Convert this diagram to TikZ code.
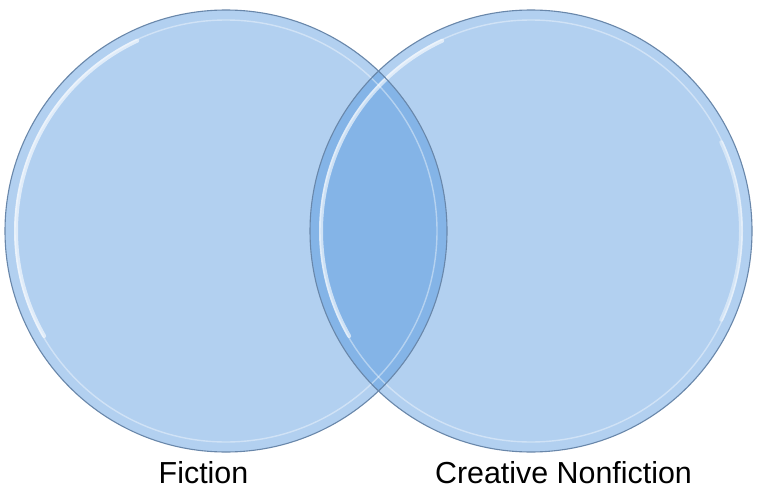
\documentclass[tikz,border=0pt]{standalone}
\usepackage{fontspec}
\setmainfont{Liberation Sans}
\definecolor{circfill}{RGB}{63,138,218}
\definecolor{rimdark}{RGB}{105,135,170}
\tikzset{
  venn/.style={fill=circfill, fill opacity=0.4, draw=none},
  rimline/.style={draw=rimdark, line width=1.1pt},
  innerrim/.style={draw=white, draw opacity=0.4, line width=1.4pt},
  shine/.style={draw=white, draw opacity=0.6, line width=4pt, line cap=round},
  lbl/.style={font=\fontsize{30.4}{36}\selectfont, text=black, anchor=base, inner sep=0pt}
}
\begin{document}
\begin{tikzpicture}[x=1pt,y=-1pt]
\useasboundingbox (0,0) rectangle (759,492);
\fill[white] (0,0) rectangle (759,492);
% circles
\coordinate (cl) at (226,231);
\coordinate (cr) at (531,231);
\fill[venn] (cl) circle[radius=221];
\fill[venn] (cr) circle[radius=221];
% inner rims
\draw[innerrim] (cl) circle[radius=211];
\draw[innerrim] (cr) circle[radius=211];
% shine
\draw[shine] (cl) ++(150:210) arc[start angle=150, end angle=245, radius=210];
\draw[shine] (cr) ++(150:210) arc[start angle=150, end angle=245, radius=210];
\draw[shine, draw opacity=0.45] (cr) ++(-25:210) arc[start angle=-25, end angle=25, radius=210];
% outer edges
\draw[rimline] (cl) circle[radius=221];
\draw[rimline] (cr) circle[radius=221];
% labels
\node[lbl] (fiction) at (203.5,483) {Fiction};
\node[lbl] (cnf) at (563.5,483) {Creative Nonfiction};
\end{tikzpicture}
\end{document}
